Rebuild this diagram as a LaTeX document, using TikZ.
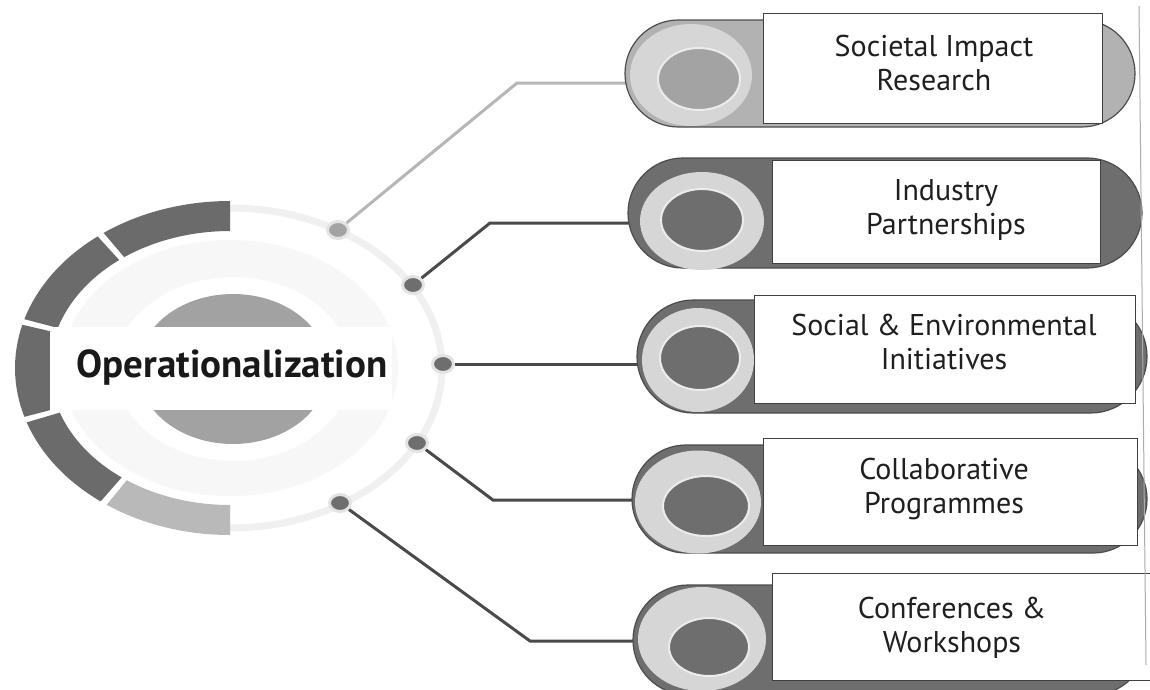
\documentclass[tikz,border=0pt]{standalone}
\usepackage{fontspec}
\setmainfont{PT Sans}
\usetikzlibrary{shapes.geometric,calc}
\definecolor{segdark}{HTML}{6B6B6B}
\definecolor{seglight}{HTML}{B9B9B9}
\definecolor{pilldark}{HTML}{6E6E6E}
\definecolor{pilllight}{HTML}{B2B2B2}
\definecolor{ringlight}{HTML}{D6D6D6}
\definecolor{innerlight}{HTML}{A3A3A3}
\definecolor{diskgray}{HTML}{A2A2A2}
\definecolor{linedark}{HTML}{4A4A4A}
\definecolor{linelight}{HTML}{B6B6B6}
\begin{document}
\begin{tikzpicture}[x=1pt,y=-1pt,
  pill/.style={draw=black!70, line width=1.2pt, inner sep=0pt},
  ringnode/.style={ellipse, fill=ringlight, inner sep=0pt},
  innernode/.style={ellipse, draw=white!85!gray, line width=2pt, inner sep=0pt},
  boxnode/.style={draw=black!75, fill=white, line width=1pt, inner sep=0pt},
  lbl/.style={align=center, font=\fontsize{30}{34}\selectfont, text=black!88},
  dotnode/.style={ellipse, fill=#1, draw=gray!22, line width=3pt, minimum width=21pt, minimum height=17pt, inner sep=0pt},
  conn/.style={line width=3pt, draw=#1}
]
\useasboundingbox (0,0) rectangle (1150,689);
\clip (0,0) rectangle (1150,689);
\fill[white] (0,0) rectangle (1150,689);

\coordinate (c) at (230,368);

% soft light ring inside
\fill[gray!6, even odd rule] ($(c)+(0,0)$) ellipse [x radius=168, y radius=128]
      ($(c)+(3,1)$) ellipse [x radius=118, y radius=92];

% faint right half of the ring carrying the dots
\draw[gray!12, line width=7pt] ($(c)+(-90:212 and 160)$) arc[start angle=-90, end angle=90, x radius=212, y radius=160];

% dark ring segments (left half)
\foreach \a/\b/\col in {-90/-126/segdark, -128/-163/segdark, -165/-197/segdark, -199/-233/segdark, -235/-270/seglight}{
  \fill[\col] ($(c)+(\a:215 and 167)$) arc[start angle=\a, end angle=\b, x radius=215, y radius=167]
     -- ($(c)+(\b:180 and 137)$) arc[start angle=\b, end angle=\a, x radius=180, y radius=137] -- cycle;
}

% inner disk and text band
\node[ellipse, fill=diskgray, minimum width=190pt, minimum height=150pt, inner sep=0pt] (disk) at (233,369) {};
\fill[white] (50,327) rectangle (392,410);
\node[font=\bfseries\fontsize{39}{42}\selectfont, text=black!90] (op) at (232,367) {Operationalization};

% dots
\node[dotnode=innerlight] (d1) at (338,230) {};
\node[dotnode=pilldark] (d2) at (413,285) {};
\node[dotnode=pilldark] (d3) at (443,364) {};
\node[dotnode=pilldark] (d4) at (417,443) {};
\node[dotnode=pilldark] (d5) at (340,503) {};

% bend coordinates
\coordinate (b1) at (517,83);
\coordinate (b2) at (490,223);
\coordinate (b4) at (493,500);
\coordinate (b5) at (530,641);

% connectors (their ends run under the pills)
\coordinate (e1) at (700,83);
\coordinate (e2) at (700,223);
\coordinate (e3) at (700,364);
\coordinate (e4) at (700,500);
\coordinate (e5) at (700,641);
\draw[conn=linelight] (d1) -- (b1) -- (e1);
\draw[conn=linedark] (d2) -- (b2) -- (e2);
\draw[conn=linedark] (d3) -- (e3);
\draw[conn=linedark] (d4) -- (b4) -- (e4);
\draw[conn=linedark] (d5) -- (b5) -- (e5);

% pills
\node[pill, fill=pilllight, minimum width=510pt, minimum height=107pt, rounded corners=53.5pt] (P1) at (880,73.5) {};
\node[pill, fill=pilldark, minimum width=514pt, minimum height=110pt, rounded corners=55pt] (P2) at (885,213) {};
\node[pill, fill=pilldark, minimum width=510pt, minimum height=113pt, rounded corners=56.5pt] (P3) at (892,356.5) {};
\node[pill, fill=pilldark, minimum width=515pt, minimum height=108pt, rounded corners=54pt] (P4) at (889.5,499) {};
\node[pill, fill=pilldark, minimum width=514pt, minimum height=110pt, rounded corners=55pt] (P5) at (890,640) {};

% circles on the pills
\node[ringnode, minimum width=122pt, minimum height=102pt] (R1) at (691,75) {};
\node[innernode, fill=innerlight, minimum width=82pt, minimum height=62pt] (I1) at (699,79) {};
\node[ringnode, minimum width=124pt, minimum height=98pt] (R2) at (702,221) {};
\node[innernode, fill=pilldark, minimum width=82pt, minimum height=62pt] (I2) at (702,220) {};
\node[ringnode, minimum width=112pt, minimum height=104pt] (R3) at (698,360) {};
\node[innernode, fill=pilldark, minimum width=80pt, minimum height=64pt] (I3) at (700,358) {};
\node[ringnode, minimum width=126pt, minimum height=103pt] (R4) at (698,502) {};
\node[innernode, fill=pilldark, minimum width=86pt, minimum height=60pt] (I4) at (706,506) {};
\node[ringnode, minimum width=128pt, minimum height=104pt] (R5) at (702,639) {};
\node[innernode, fill=pilldark, minimum width=80pt, minimum height=58pt] (I5) at (709,647) {};

% label boxes
\node[boxnode, minimum width=339pt, minimum height=110pt] (B1) at (932.5,68) {};
\node[boxnode, minimum width=328pt, minimum height=103pt] (B2) at (936,211.5) {};
\node[boxnode, minimum width=381pt, minimum height=108pt] (B3) at (944.5,349) {};
\node[boxnode, minimum width=374pt, minimum height=107pt] (B4) at (950,491.5) {};
\node[boxnode, minimum width=380pt, minimum height=107pt] (B5) at (962,626.5) {};

\node[lbl] (L1) at (934,63) {Societal Impact\\Research};
\node[lbl] (L2) at (946,210) {Industry\\Partnerships};
\node[lbl] (L3) at (944,342) {Social \& Environmental\\Initiatives};
\node[lbl] (L4) at (944,489) {Collaborative\\Programmes};
\node[lbl] (L5) at (952,628) {Conferences \&\\Workshops};

% page edge line
\draw[gray!65, line width=1pt] (1139,6) -- (1146,665);
\end{tikzpicture}
\end{document}
